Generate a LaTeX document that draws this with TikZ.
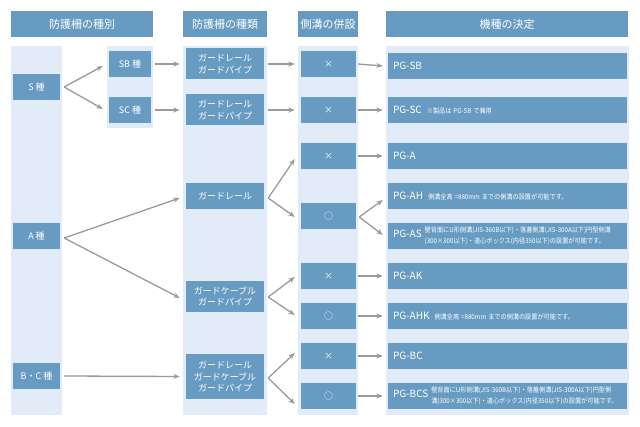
\documentclass[tikz,border=0pt]{standalone}
\usepackage{fontspec}
\setmainfont{Noto Sans CJK JP}
\newfontfamily\condf[FakeStretch=0.92]{Noto Sans CJK JP}
\usetikzlibrary{arrows.meta}
\definecolor{dk}{RGB}{103,155,194}
\definecolor{lt}{RGB}{225,236,248}
\definecolor{ar}{RGB}{155,155,155}
\newcommand\pgn[1]{{\fontsize{10}{12}\selectfont #1}}
\newcommand\ntx[1]{{\condf\fontsize{6.7}{7.6}\selectfont #1}}
\newcommand\nttwo[2]{{\condf\fontsize{6.7}{10.3}\selectfont\begin{tabular}[c]{@{}l@{}}#1\\#2\end{tabular}}}
\newcommand\ntsp{\hspace{2pt}}
\begin{document}
\begin{tikzpicture}[x=1pt,y=-1pt,
  hdr/.style={fill=dk,text=white,inner sep=0pt,minimum height=26pt,font=\fontsize{11}{13}\selectfont},
  bx/.style={fill=dk,text=white,inner sep=0pt,align=center,font=\fontsize{9}{11.5}\selectfont},
  sm/.style={bx,minimum width=55pt,minimum height=26pt},
  lf/.style={bx,minimum width=47pt,minimum height=26pt},
  gb/.style={bx,minimum width=78pt},
  pg/.style={fill=dk,text=white,inner sep=0pt,inner xsep=5pt,minimum height=26pt,text width=229pt,align=left},
  arr/.style={draw=ar,line width=1.3pt,-{Stealth[length=6.5pt,width=5pt]}},
]
\useasboundingbox (0,0) rectangle (640,427);
\fill[white] (0,0) rectangle (640,427);
% headers
\node[hdr,minimum width=142pt] (h1) at (82,24) {防護柵の種別};
\node[hdr,minimum width=84pt] (h2) at (225,24) {防護柵の種類};
\node[hdr,minimum width=60pt] (h3) at (328,24) {側溝の併設};
\node[hdr,minimum width=242pt] (h4) at (507,24) {機種の決定};
% background columns
\fill[lt] (11,46) rectangle (62,415);
\fill[lt] (107,46) rectangle (153,128);
\fill[lt] (183,46) rectangle (267,415);
\fill[lt] (298,46) rectangle (358,415);
\fill[lt] (386,46) rectangle (629,415);
% column 1
\node[lf] (S) at (36.5,87) {S 種};
\node[lf] (A) at (36.5,236) {A 種};
\node[lf] (BC) at (36.5,376) {B・C 種};
\node[bx,minimum width=42pt,minimum height=26pt] (SB) at (130,64) {SB 種};
\node[bx,minimum width=42pt,minimum height=26pt] (SC) at (130,110) {SC 種};
% column 2
\node[gb,minimum height=31pt] (G1) at (225,64) {ガードレール\\ガードパイプ};
\node[gb,minimum height=31pt] (G2) at (225,110) {ガードレール\\ガードパイプ};
\node[gb,minimum height=26pt] (G3) at (225,196) {ガードレール};
\node[gb,minimum height=31pt] (G4) at (225,296.5) {ガードケーブル\\ガードパイプ};
\node[gb,minimum height=45pt] (G5) at (225,376.5) {ガードレール\\ガードケーブル\\ガードパイプ};
% column 3
\node[sm] (X1) at (328.5,64) {×};
\node[sm] (X2) at (328.5,110) {×};
\node[sm] (X3) at (328.5,156) {×};
\node[sm] (O3) at (328.5,216) {○};
\node[sm] (X4) at (328.5,276) {×};
\node[sm] (O4) at (328.5,316) {○};
\node[sm] (X5) at (328.5,356) {×};
\node[sm] (O5) at (328.5,396) {○};
% column 4
\node[pg] (P1) at (507.5,66) {\pgn{PG-SB}};
\node[pg] (P2) at (507.5,110) {\pgn{PG-SC}\hspace{5pt}\ntx{※製品は\ntsp PG-SB\ntsp で兼用}};
\node[pg] (P3) at (507.5,156) {\pgn{PG-A}};
\node[pg] (P4) at (507.5,196) {\pgn{PG-AH}\hspace{5pt}\ntx{側溝全高\ntsp =880mm\ntsp までの側溝の設置が可能です。}};
\node[pg] (P5) at (507.5,236) {\pgn{PG-AS}\hspace{3pt}\nttwo{壁背面にU形側溝(JIS-360B以下)・落蓋側溝(JIS-300A以下)円型側溝}{(300×300以下)・遠心ボックス(内径350以下)の設置が可能です。}};
\node[pg] (P6) at (507.5,276) {\pgn{PG-AK}};
\node[pg] (P7) at (507.5,316) {\pgn{PG-AHK}\hspace{5pt}\ntx{側溝全高\ntsp =880mm\ntsp までの側溝の設置が可能です。}};
\node[pg] (P8) at (507.5,356) {\pgn{PG-BC}};
\node[pg] (P9) at (507.5,396) {\pgn{PG-BCS}\hspace{3pt}\nttwo{壁背面にU形側溝(JIS-360B以下)・落蓋側溝(JIS-300A以下)円型側}{溝(300×300以下)・遠心ボックス(内径350以下)の設置が可能です。}};
% arrows
\draw[arr] ([xshift=4pt]S.east) -- ([xshift=-6pt,yshift=-2pt]SB.west);
\draw[arr] ([xshift=4pt]S.east) -- ([xshift=-6pt,yshift=1pt]SC.west);
\draw[arr] ([xshift=4pt]SB.east) -- ([xshift=-6pt]G1.west);
\draw[arr] ([xshift=4pt]SC.east) -- ([xshift=-6pt]G2.west);
\draw[arr] ([xshift=4pt]G1.east) -- ([xshift=-6pt]X1.west);
\draw[arr] ([xshift=4pt]G2.east) -- ([xshift=-6pt]X2.west);
\draw[arr] ([xshift=2pt]X1.east) -- ([xshift=-5pt]P1.west);
\draw[arr] ([xshift=2pt]X2.east) -- ([xshift=-5pt]P2.west);
\draw[arr] ([xshift=4pt,yshift=-2pt]A.east) -- ([xshift=-6pt,yshift=-2pt]G3.west);
\draw[arr] ([xshift=4pt,yshift=-2pt]A.east) -- ([xshift=-6pt,yshift=-1.5pt]G4.west);
\draw[arr] ([xshift=4pt,yshift=-2pt]G3.east) -- ([xshift=-6pt,yshift=-3pt]X3.west);
\draw[arr] ([xshift=4pt,yshift=-2pt]G3.east) -- ([xshift=-6pt,yshift=-1pt]O3.west);
\draw[arr] ([xshift=2pt]X3.east) -- ([xshift=-5pt]P3.west);
\draw[arr] ([xshift=3pt,yshift=-1pt]O3.east) -- ([xshift=-5pt,yshift=-4pt]P4.west);
\draw[arr] ([xshift=3pt,yshift=-1pt]O3.east) -- ([xshift=-5pt,yshift=1pt]P5.west);
\draw[arr] ([xshift=4pt,yshift=-0.5pt]G4.east) -- ([xshift=-6pt,yshift=-1pt]X4.west);
\draw[arr] ([xshift=4pt,yshift=-0.5pt]G4.east) -- ([xshift=-6pt,yshift=1pt]O4.west);
\draw[arr] ([xshift=2pt]X4.east) -- ([xshift=-5pt]P6.west);
\draw[arr] ([xshift=2pt]O4.east) -- ([xshift=-5pt]P7.west);
\draw[arr] ([xshift=4pt]BC.east) -- ([xshift=-6pt]G5.west);
\draw[arr] ([xshift=4pt,yshift=-1.5pt]G5.east) -- ([xshift=-6pt,yshift=3pt]X5.west);
\draw[arr] ([xshift=4pt,yshift=-1.5pt]G5.east) -- ([xshift=-6pt,yshift=-8pt]O5.west);
\draw[arr] ([xshift=2pt]X5.east) -- ([xshift=-5pt]P8.west);
\draw[arr] ([xshift=2pt]O5.east) -- ([xshift=-5pt]P9.west);
\end{tikzpicture}
\end{document}
